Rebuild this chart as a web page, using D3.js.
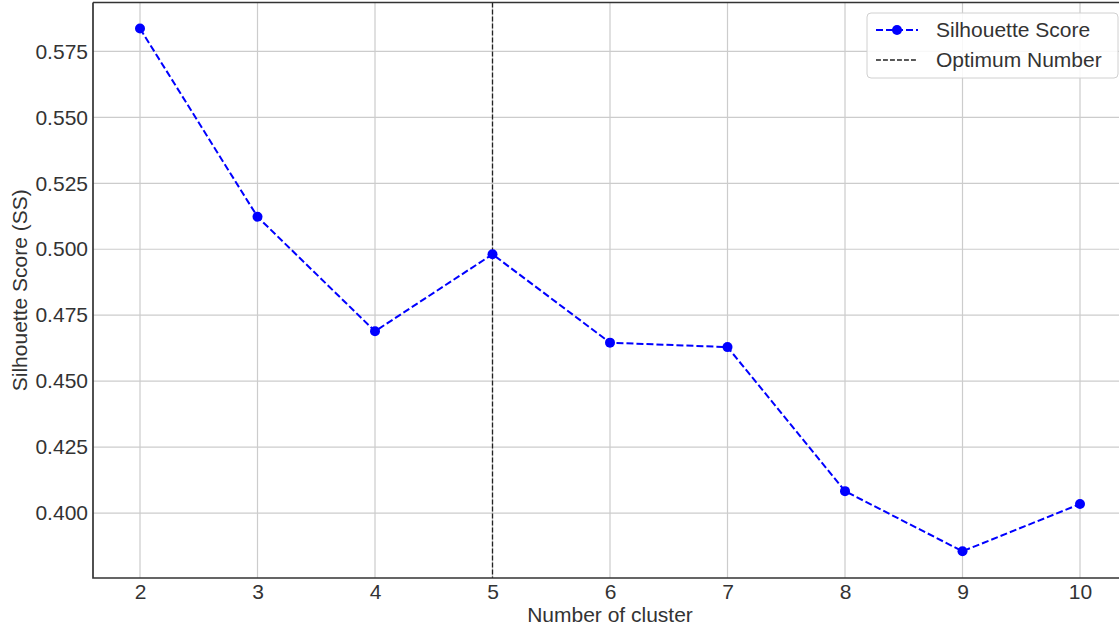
<!DOCTYPE html>
<html><head><meta charset="utf-8">
<script src="https://cdn.jsdelivr.net/npm/d3@7"></script>
<style>
html,body{margin:0;padding:0;background:#fff;}
svg{display:block;font-family:"Liberation Sans",Arial,sans-serif;}
</style></head><body>
<svg id="c" width="1119" height="631"></svg>
<script>
const clusters = [2, 3, 4, 5, 6, 7, 8, 9, 10];
const scores = [0.5837, 0.5123, 0.4689, 0.4981, 0.4646, 0.4629, 0.4083, 0.3855, 0.4034];
const yTicks = [0.400, 0.425, 0.450, 0.475, 0.500, 0.525, 0.550, 0.575];
const optimum = 5;
const legendLabels = ["Silhouette Score", "Optimum Number"];

const svg = d3.select("#c");
const L = 93, T = 2.5, B = 578, R = 1127;
const x = d3.scaleLinear().domain([1.6, 10.4]).range([L, R]);
const y = d3.scaleLinear().domain([0.37537, 0.59355]).range([B, T]);
const txt = "#333333";

// grid
const g = svg.append("g");
g.selectAll(".vg").data(clusters).enter().append("line")
  .attr("x1", d => x(d)).attr("x2", d => x(d)).attr("y1", T).attr("y2", B)
  .attr("stroke", "#cccccc").attr("stroke-width", 1.2);
g.selectAll(".hg").data(yTicks).enter().append("line")
  .attr("x1", L).attr("x2", R).attr("y1", d => y(d)).attr("y2", d => y(d))
  .attr("stroke", "#cccccc").attr("stroke-width", 1.2);

// axes (labels only)
const xa = svg.append("g").attr("transform", `translate(0,${B})`)
  .call(d3.axisBottom(x).tickValues(clusters).tickFormat(d3.format("d")).tickSize(0).tickPadding(6));
const ya = svg.append("g").attr("transform", `translate(${L},0)`)
  .call(d3.axisLeft(y).tickValues(yTicks).tickFormat(d3.format(".3f")).tickSize(0).tickPadding(5));
[xa, ya].forEach(a => {
  a.select(".domain").remove();
  a.selectAll("text").attr("font-size", 21).attr("fill", txt)
    .attr("font-family", '"Liberation Sans", Arial, sans-serif');
});

// optimum vertical line
svg.append("line").attr("x1", x(optimum)).attr("x2", x(optimum)).attr("y1", T).attr("y2", B)
  .attr("stroke", "#222").attr("stroke-width", 1.3).attr("stroke-dasharray", "4.9,2.1");

// series line
const line = d3.line().x((d, i) => x(clusters[i])).y(d => y(d));
svg.append("path").datum(scores).attr("d", line).attr("fill", "none")
  .attr("stroke", "#0000ff").attr("stroke-width", 2).attr("stroke-dasharray", "7,3");
svg.selectAll(".pt").data(scores).enter().append("circle")
  .attr("cx", (d, i) => x(clusters[i])).attr("cy", d => y(d)).attr("r", 5).attr("fill", "#0000ff");

// spines
svg.append("path").attr("d", `M${L},${T}H${R}M${L},${T}V${B}H${R}`)
  .attr("fill", "none").attr("stroke", "#333").attr("stroke-width", 1.7);

// axis labels
svg.append("text").attr("x", x(6)).attr("y", 622).attr("text-anchor", "middle")
  .attr("font-size", 21).attr("fill", txt).text("Number of cluster");
svg.append("text").attr("transform", `translate(27,${(T + B) / 2}) rotate(-90)`)
  .attr("text-anchor", "middle").attr("font-size", 21).attr("fill", txt).text("Silhouette Score (SS)");

// legend
const lg = svg.append("g");
lg.append("rect").attr("x", 867).attr("y", 13).attr("width", 251).attr("height", 65).attr("rx", 4)
  .attr("fill", "rgba(255,255,255,0.85)").attr("stroke", "#d0d0d0").attr("stroke-width", 1);
lg.append("line").attr("x1", 876).attr("x2", 918).attr("y1", 30).attr("y2", 30)
  .attr("stroke", "#0000ff").attr("stroke-width", 2).attr("stroke-dasharray", "7,3");
lg.append("circle").attr("cx", 897).attr("cy", 30).attr("r", 5).attr("fill", "#0000ff");
lg.append("line").attr("x1", 876).attr("x2", 918).attr("y1", 60).attr("y2", 60)
  .attr("stroke", "#222").attr("stroke-width", 1.3).attr("stroke-dasharray", "4.9,2.1");
lg.selectAll(".lt").data(legendLabels).enter().append("text")
  .attr("x", 936).attr("y", (d, i) => 30 + i * 30).attr("dy", "0.35em")
  .attr("font-size", 21).attr("fill", txt).text(d => d);
</script>
</body></html>
